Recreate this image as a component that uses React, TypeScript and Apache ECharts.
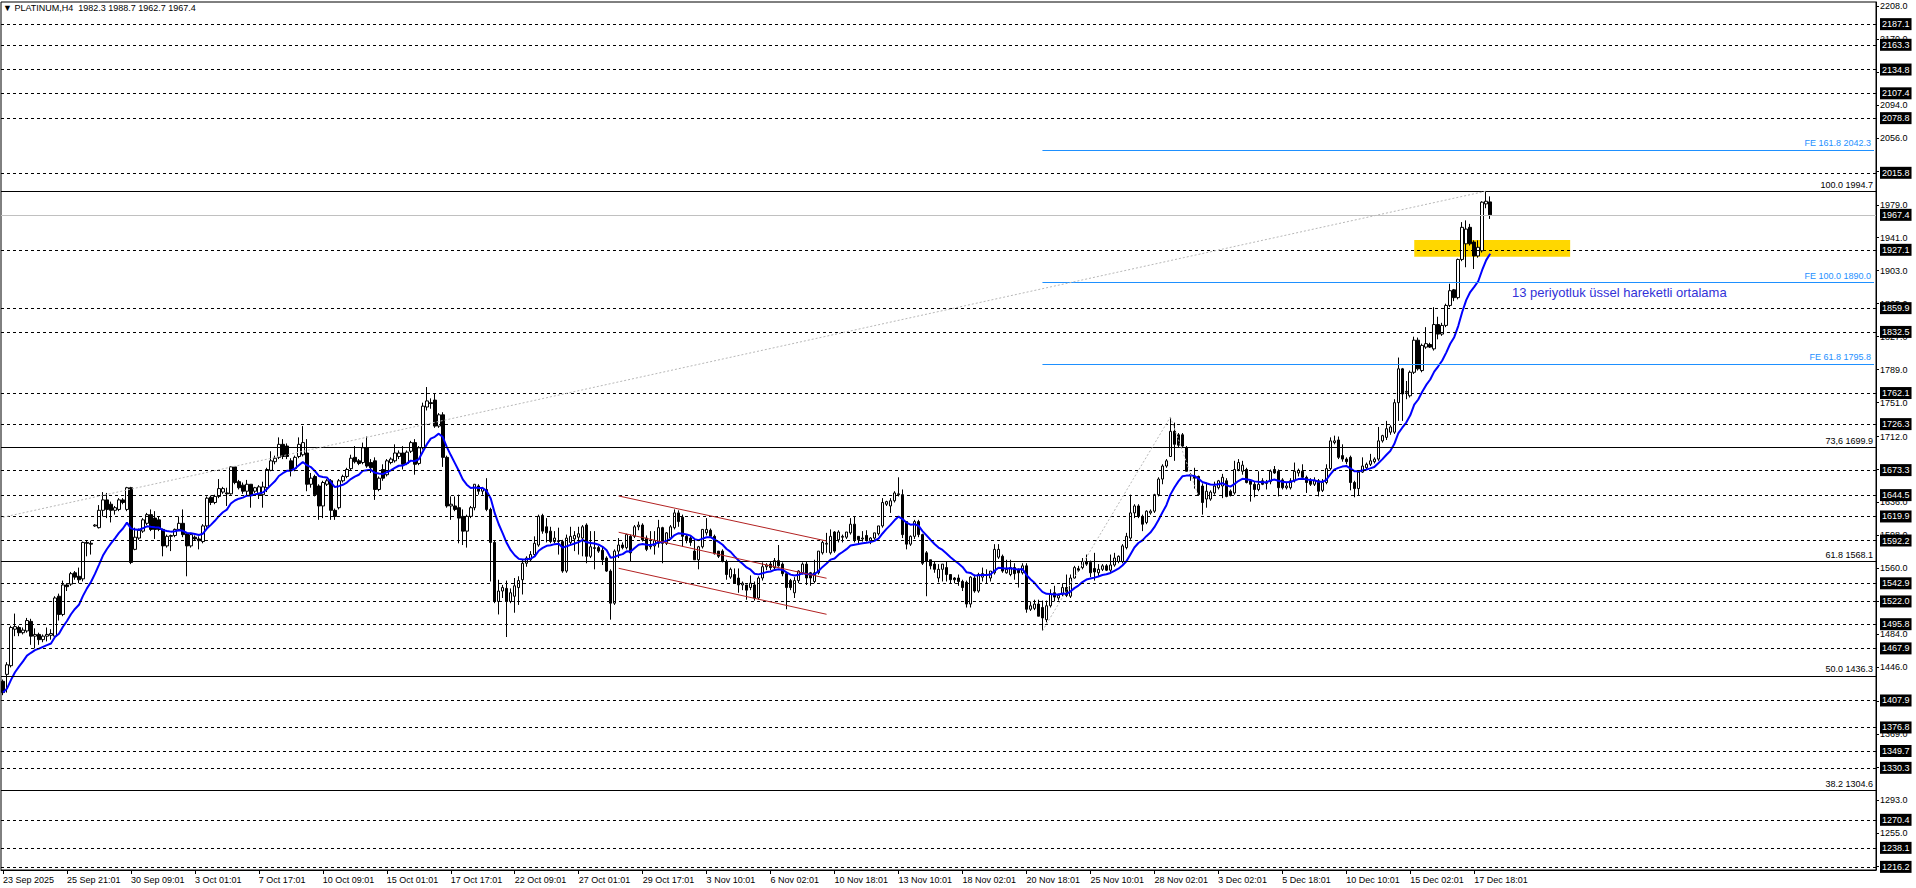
import React, { useEffect, useRef } from "react";
import * as echarts from "echarts";

const FONT = "'Liberation Sans', 'DejaVu Sans', Arial, sans-serif";

const headerText = "\u25BC PLATINUM,H4  1982.3 1988.7 1962.7 1967.4";
const emaLabel = "13 periyotluk üssel hareketli ortalama";

// category slots on the time axis (bars + empty space to the right)
const slotCount = 469;
const xLabelStep = 16;
const xLabels = [
  "23 Sep 2025", "25 Sep 21:01", "30 Sep 09:01", "3 Oct 01:01", "7 Oct 17:01", "10 Oct 09:01",
  "15 Oct 01:01", "17 Oct 17:01", "22 Oct 09:01", "27 Oct 01:01", "29 Oct 17:01", "3 Nov 10:01",
  "6 Nov 02:01", "10 Nov 18:01", "13 Nov 10:01", "18 Nov 02:01", "20 Nov 18:01", "25 Nov 10:01",
  "28 Nov 02:01", "3 Dec 02:01", "5 Dec 18:01", "10 Dec 10:01", "15 Dec 02:01", "17 Dec 18:01",
];

const yMin = 1212.6;
const yMax = 2212.6;
const yTicks = [
  2208, 2170, 2132, 2094, 2056, 2018, 1979, 1941, 1903, 1865, 1827, 1789, 1751, 1712,
  1674, 1636, 1598, 1560, 1522, 1484, 1446, 1407, 1369, 1331, 1293, 1255, 1217,
];

// [open, high, low, close]
const candlesSep = [
  [1430, 1432, 1414, 1417], [1438, 1452, 1417, 1449], [1448, 1494, 1446, 1492], [1490, 1508, 1482, 1493],
  [1492, 1494, 1482, 1486], [1486, 1492, 1484, 1489], [1488, 1503, 1486, 1500], [1499, 1502, 1472, 1482],
  [1482, 1491, 1468, 1484], [1484, 1486, 1472, 1478], [1478, 1484, 1475, 1482], [1482, 1492, 1476, 1484],
  [1483, 1490, 1478, 1485], [1482, 1528, 1480, 1526], [1528, 1531, 1500, 1507], [1507, 1546, 1505, 1541],
  [1541, 1543, 1534, 1539], [1542, 1556, 1540, 1554], [1555, 1557, 1547, 1550], [1551, 1561, 1543, 1547],
  [1548, 1591, 1545, 1590], [1590, 1592, 1574, 1589], [1589, 1592, 1576, 1588], [1609, 1611, 1608, 1610],
  [1607, 1633, 1606, 1627], [1627, 1648, 1620, 1639], [1639, 1647, 1618, 1628], [1634, 1637, 1613, 1627],
  [1627, 1632, 1622, 1630], [1628, 1641, 1626, 1639], [1639, 1641, 1634, 1636], [1628, 1654, 1626, 1653],
  [1653, 1654, 1565, 1567], [1582, 1607, 1581, 1596], [1595, 1606, 1593, 1604], [1603, 1618, 1601, 1616],
];

const candlesOct = [
  [1612, 1624, 1610, 1622], [1622, 1628, 1603, 1605], [1618, 1626, 1594, 1605], [1616, 1620, 1603, 1605],
  [1605, 1606, 1574, 1586], [1586, 1599, 1584, 1597], [1597, 1599, 1580, 1598], [1598, 1606, 1596, 1605],
  [1605, 1620, 1603, 1612], [1612, 1628, 1596, 1599], [1600, 1602, 1551, 1586], [1586, 1601, 1584, 1599],
  [1596, 1598, 1592, 1594], [1594, 1597, 1582, 1592], [1591, 1611, 1589, 1609], [1609, 1643, 1607, 1641],
  [1642, 1644, 1633, 1636], [1636, 1645, 1634, 1643], [1643, 1663, 1641, 1652], [1648, 1654, 1646, 1652],
  [1647, 1653, 1632, 1646], [1646, 1678, 1645, 1677], [1677, 1678, 1657, 1659], [1660, 1662, 1651, 1653],
  [1656, 1659, 1646, 1649], [1649, 1662, 1643, 1657], [1657, 1657, 1630, 1645], [1649, 1654, 1647, 1653],
  [1645, 1656, 1640, 1654], [1645, 1660, 1630, 1654], [1653, 1676, 1648, 1674], [1673, 1695, 1672, 1684],
  [1683, 1690, 1680, 1687], [1688, 1711, 1686, 1703], [1703, 1709, 1686, 1689], [1701, 1704, 1686, 1689],
  [1684, 1687, 1666, 1674], [1675, 1690, 1672, 1688], [1689, 1711, 1687, 1703], [1691, 1724, 1689, 1705],
  [1693, 1709, 1649, 1657], [1657, 1670, 1653, 1664], [1666, 1668, 1643, 1645], [1655, 1657, 1616, 1632],
  [1632, 1661, 1618, 1659], [1657, 1663, 1655, 1661], [1661, 1663, 1616, 1627], [1627, 1629, 1616, 1620],
  [1630, 1663, 1628, 1661], [1661, 1668, 1659, 1666], [1666, 1676, 1664, 1674], [1675, 1691, 1673, 1687],
  [1688, 1701, 1681, 1683], [1684, 1686, 1679, 1681], [1682, 1705, 1680, 1699], [1699, 1712, 1676, 1678],
  [1682, 1686, 1670, 1676], [1684, 1688, 1639, 1651], [1651, 1666, 1649, 1664], [1674, 1680, 1661, 1664],
  [1668, 1686, 1666, 1684], [1682, 1688, 1680, 1686], [1684, 1703, 1682, 1693], [1689, 1696, 1686, 1693],
  [1693, 1701, 1674, 1680], [1681, 1696, 1679, 1694], [1695, 1707, 1693, 1705], [1705, 1709, 1668, 1680],
  [1681, 1701, 1679, 1699], [1699, 1751, 1697, 1747], [1746, 1769, 1742, 1753], [1751, 1756, 1744, 1750],
  [1754, 1762, 1722, 1724], [1724, 1739, 1722, 1737], [1737, 1740, 1677, 1688], [1688, 1690, 1630, 1632],
  [1632, 1643, 1616, 1634], [1632, 1643, 1626, 1628], [1630, 1645, 1589, 1618], [1620, 1628, 1587, 1603],
  [1603, 1622, 1584, 1620], [1620, 1632, 1618, 1630], [1630, 1657, 1627, 1657], [1655, 1657, 1645, 1649],
  [1649, 1654, 1645, 1652], [1651, 1664, 1626, 1628], [1628, 1630, 1545, 1590], [1590, 1592, 1520, 1522],
  [1522, 1547, 1507, 1534], [1534, 1541, 1526, 1538], [1537, 1546, 1481, 1522], [1522, 1537, 1520, 1532],
  [1528, 1549, 1509, 1540], [1538, 1551, 1518, 1546], [1547, 1570, 1530, 1566], [1566, 1574, 1562, 1572],
  [1570, 1580, 1568, 1576], [1576, 1597, 1574, 1589], [1587, 1622, 1585, 1620], [1621, 1623, 1600, 1603],
  [1608, 1618, 1590, 1601], [1603, 1608, 1589, 1591], [1591, 1603, 1589, 1595], [1592, 1607, 1576, 1591],
  [1591, 1593, 1555, 1557], [1557, 1599, 1555, 1595], [1590, 1608, 1588, 1597], [1594, 1603, 1580, 1598],
  [1596, 1608, 1576, 1600], [1595, 1610, 1574, 1608], [1610, 1612, 1566, 1574], [1574, 1603, 1572, 1585],
  [1583, 1603, 1559, 1584], [1584, 1586, 1578, 1580], [1581, 1585, 1564, 1570], [1572, 1574, 1556, 1557],
  [1557, 1559, 1501, 1520], [1520, 1582, 1518, 1580], [1580, 1595, 1572, 1587], [1587, 1590, 1582, 1584],
  [1584, 1600, 1582, 1599], [1597, 1599, 1568, 1578], [1597, 1610, 1595, 1608], [1608, 1614, 1604, 1610],
  [1610, 1612, 1591, 1593], [1595, 1598, 1580, 1582], [1585, 1603, 1582, 1586], [1586, 1603, 1576, 1592],
  [1589, 1616, 1584, 1607], [1607, 1608, 1566, 1589], [1589, 1602, 1587, 1601], [1595, 1610, 1593, 1608],
  [1607, 1628, 1605, 1624], [1624, 1627, 1608, 1614], [1619, 1622, 1585, 1597], [1597, 1599, 1589, 1593],
  [1595, 1598, 1586, 1590], [1580, 1595, 1570, 1570],
];

const candlesNov = [
  [1570, 1586, 1559, 1585], [1585, 1605, 1583, 1605], [1601, 1618, 1598, 1605], [1604, 1606, 1597, 1597],
  [1597, 1599, 1576, 1577], [1580, 1580, 1572, 1574], [1580, 1582, 1567, 1568], [1568, 1570, 1547, 1553],
  [1550, 1561, 1548, 1559], [1553, 1560, 1543, 1543], [1549, 1560, 1532, 1541], [1541, 1545, 1535, 1543],
  [1541, 1541, 1524, 1535], [1538, 1552, 1535, 1543], [1541, 1545, 1523, 1526], [1526, 1551, 1524, 1549],
  [1549, 1567, 1546, 1562], [1562, 1566, 1558, 1564], [1565, 1568, 1558, 1561], [1561, 1572, 1558, 1569],
  [1569, 1587, 1562, 1563], [1565, 1567, 1551, 1554], [1554, 1556, 1513, 1538], [1546, 1548, 1535, 1538],
  [1532, 1550, 1526, 1546], [1546, 1558, 1543, 1557], [1555, 1567, 1553, 1565], [1565, 1568, 1541, 1549],
  [1555, 1556, 1540, 1549], [1545, 1570, 1543, 1555], [1555, 1580, 1553, 1580], [1578, 1592, 1576, 1590],
  [1588, 1601, 1578, 1589], [1578, 1605, 1576, 1597], [1602, 1603, 1578, 1580], [1593, 1604, 1590, 1602],
  [1596, 1599, 1590, 1597], [1596, 1602, 1594, 1602], [1601, 1618, 1599, 1611], [1611, 1620, 1590, 1593],
  [1597, 1597, 1588, 1593], [1594, 1603, 1591, 1595], [1598, 1604, 1591, 1593], [1592, 1596, 1588, 1595],
  [1595, 1601, 1593, 1601], [1600, 1609, 1598, 1609], [1609, 1641, 1607, 1636], [1634, 1638, 1632, 1637],
  [1632, 1641, 1624, 1638], [1638, 1649, 1636, 1647], [1645, 1665, 1643, 1646], [1645, 1651, 1595, 1599],
  [1614, 1614, 1582, 1588], [1588, 1598, 1586, 1597], [1597, 1616, 1594, 1614], [1614, 1616, 1596, 1599],
  [1599, 1600, 1564, 1566], [1578, 1580, 1528, 1568], [1570, 1570, 1559, 1563], [1565, 1568, 1555, 1559],
  [1549, 1565, 1544, 1559], [1559, 1565, 1545, 1565], [1561, 1568, 1545, 1553], [1553, 1553, 1543, 1547],
  [1549, 1550, 1543, 1547], [1549, 1553, 1540, 1545], [1545, 1547, 1534, 1538], [1544, 1546, 1515, 1519],
  [1519, 1551, 1515, 1550], [1549, 1553, 1532, 1534], [1534, 1555, 1532, 1553], [1550, 1561, 1545, 1554],
  [1552, 1559, 1543, 1553], [1549, 1557, 1545, 1557], [1555, 1588, 1553, 1582], [1573, 1588, 1571, 1582],
  [1574, 1576, 1555, 1557], [1555, 1570, 1554, 1559], [1553, 1570, 1551, 1561], [1561, 1566, 1547, 1554],
  [1559, 1560, 1538, 1555], [1555, 1566, 1553, 1563], [1563, 1566, 1509, 1513], [1513, 1522, 1511, 1517],
  [1514, 1524, 1512, 1519], [1519, 1524, 1505, 1505], [1515, 1523, 1488, 1503], [1501, 1523, 1498, 1517],
  [1517, 1536, 1515, 1530], [1532, 1540, 1522, 1527], [1526, 1531, 1523, 1529], [1530, 1543, 1528, 1538],
  [1538, 1553, 1527, 1529], [1528, 1553, 1526, 1549], [1549, 1563, 1548, 1561], [1560, 1563, 1556, 1558],
  [1561, 1572, 1559, 1568], [1568, 1576, 1563, 1565], [1567, 1569, 1550, 1555], [1560, 1578, 1546, 1556],
  [1555, 1565, 1551, 1559], [1559, 1565, 1557, 1563], [1563, 1565, 1557, 1558], [1558, 1576, 1556, 1564],
  [1564, 1578, 1562, 1572], [1568, 1575, 1566, 1574], [1568, 1588, 1566, 1586], [1584, 1601, 1582, 1597],
  [1595, 1645, 1593, 1624], [1624, 1634, 1618, 1632], [1632, 1634, 1618, 1620], [1620, 1622, 1603, 1611],
  [1613, 1627, 1611, 1626], [1624, 1628, 1622, 1626], [1626, 1646, 1624, 1645], [1645, 1665, 1643, 1663],
  [1663, 1680, 1657, 1678], [1678, 1686, 1676, 1684],
];

const candlesDec = [
  [1689, 1734.5, 1689, 1718], [1718, 1728, 1684, 1703], [1714, 1716, 1700, 1702], [1714, 1716, 1700, 1701],
  [1699, 1701, 1672, 1672], [1667, 1670, 1661, 1668], [1666, 1676, 1652, 1664], [1666, 1667, 1643.6, 1645],
  [1655, 1658, 1622, 1636], [1640, 1659, 1630, 1649], [1640, 1650, 1638, 1648], [1647, 1660, 1645, 1655],
  [1653, 1662, 1651, 1661], [1655, 1669, 1641, 1665], [1661, 1664, 1642, 1643], [1649, 1651, 1643, 1644],
  [1647, 1684, 1645, 1674], [1674, 1686, 1672, 1682], [1672, 1684, 1668, 1679], [1674, 1676, 1658, 1659],
  [1661, 1663, 1637, 1657], [1657, 1660, 1642, 1651], [1651, 1672, 1649, 1657], [1661, 1664, 1656, 1657],
  [1658, 1662, 1651, 1659], [1660, 1674, 1657, 1672], [1674, 1678, 1669, 1670], [1672, 1674, 1643, 1653],
  [1662, 1664, 1651, 1653], [1653, 1659, 1651, 1655], [1653, 1664, 1651, 1661], [1661, 1682, 1659, 1672],
  [1670, 1675, 1666, 1673], [1672, 1680, 1664, 1665], [1665, 1667, 1647, 1659], [1662, 1664, 1655, 1657],
  [1657, 1665, 1655, 1661], [1661, 1663, 1643, 1649], [1650, 1663, 1648, 1659], [1659, 1680, 1657, 1675],
  [1675, 1711, 1673, 1707], [1705, 1713, 1703, 1707], [1708, 1712, 1686, 1688], [1690, 1703, 1683, 1686],
  [1686, 1688, 1680, 1683], [1688, 1690, 1650, 1659], [1659, 1661, 1642, 1652], [1652, 1672, 1644, 1671],
  [1671, 1688, 1670, 1678], [1676, 1682, 1674, 1680], [1680, 1692, 1678, 1684], [1683, 1688, 1681, 1686],
  [1686, 1723, 1684, 1707], [1707, 1714, 1705, 1713], [1711, 1730, 1708, 1721], [1717, 1725, 1714, 1723],
  [1717, 1755, 1715, 1751], [1751, 1803, 1730, 1790], [1790, 1791, 1730, 1761], [1763, 1776, 1755, 1764],
  [1759, 1788, 1757, 1786], [1786, 1827, 1784, 1823], [1823, 1826, 1788, 1790], [1788, 1819, 1786, 1817],
  [1815, 1838, 1813, 1819], [1818, 1820, 1814, 1815], [1813, 1861, 1811, 1841], [1841, 1850, 1824, 1830],
  [1830, 1843, 1828, 1840], [1840, 1865, 1838, 1863], [1863, 1888, 1861, 1880], [1881, 1882, 1868, 1872],
  [1872, 1917, 1870, 1916], [1916, 1959, 1914, 1953], [1934, 1961, 1907, 1951], [1953, 1957, 1932, 1934],
  [1936, 1938, 1905, 1920], [1920, 1938, 1918, 1930], [1926, 1983, 1924, 1982], [1980, 1994.7, 1975, 1983],
  [1982.3, 1988.7, 1962.7, 1967.4],
];

// horizontal price levels with labels on the price scale
const levelLines = [
  2187.1, 2163.3, 2134.8, 2107.4, 2078.8, 2015.8, 1927.1, 1859.9, 1832.5, 1762.1, 1726.3, 1673.3,
  1644.5, 1619.9, 1592.2, 1542.9, 1522.0, 1495.8, 1467.9, 1407.9, 1376.8, 1349.7, 1330.3, 1270.4,
  1238.1, 1216.2,
];
const bidPrice = 1967.4;

const fiboLevels: [string, number][] = [
  ["100.0", 1994.7], ["73,6", 1699.9], ["61.8", 1568.1], ["50.0", 1436.3], ["38.2", 1304.6],
];
const feLevels: [string, number][] = [
  ["FE 161.8", 2042.3], ["FE 100.0", 1890.0], ["FE 61.8", 1795.8],
];
const feStartIndex = 260;

const fiboTrend = [[0, 1619], [371, 1994.7]];
const feLegs = [[260, 1488.1], [292, 1734.5], [299, 1643.6]];
const channelLines = [
  [[154, 1643.5], [206, 1591.6]],
  [[154, 1601.7], [206, 1548.7]],
  [[154, 1560.2], [206, 1507.2]],
];
const zoneBox = [[353, 1938.4], [392, 1919.2]];

const emaPeriod = 13;
const emaSeed = 1417;

export default function App() {
  const ref = useRef<HTMLDivElement>(null);

  useEffect(() => {
    if (!ref.current) return;
    const chart = echarts.init(ref.current, null, { renderer: "svg" });

    const candles = [...candlesSep, ...candlesOct, ...candlesNov, ...candlesDec];
    const categories = Array.from({ length: slotCount }, (_, i) => String(i));
    const candleData = candles.map(([o, h, l, c]) => [o, c, l, h]);

    const alpha = 2 / (emaPeriod + 1);
    let prev = emaSeed;
    const emaData = candles.map((row) => {
      prev = prev + alpha * (row[3] - prev);
      return +prev.toFixed(2);
    });

    const lastSlot = slotCount - 1;
    const boxLabel = {
      show: true,
      position: "end",
      distance: 4,
      backgroundColor: "#000",
      color: "#fff",
      fontSize: 9,
      fontFamily: FONT,
      padding: [2, 2, 1, 2],
    };

    const markLines: any[] = [];
    levelLines.forEach((v) => {
      markLines.push({
        yAxis: v,
        lineStyle: { color: "#000", type: [3, 3], width: 1 },
        label: { ...boxLabel, formatter: v.toFixed(1) },
      });
    });
    markLines.push({
      yAxis: bidPrice,
      lineStyle: { color: "#c0c0c0", type: "solid", width: 1 },
      label: { ...boxLabel, formatter: bidPrice.toFixed(1) },
    });
    fiboLevels.forEach(([lvl, v]) => {
      markLines.push({
        yAxis: v,
        lineStyle: { color: "#000", type: "solid", width: 1 },
        label: {
          show: true,
          position: "insideEndTop",
          distance: [3, 2],
          formatter: `${lvl} ${v.toFixed(1)}`,
          color: "#000",
          fontSize: 9,
          fontFamily: FONT,
        },
      });
    });
    feLevels.forEach(([lvl, v]) => {
      markLines.push([
        {
          coord: [feStartIndex, v],
          lineStyle: { color: "#1e90ff", type: "solid", width: 1 },
          label: {
            show: true,
            position: "insideEndTop",
            distance: [3, 2],
            formatter: `${lvl} ${v.toFixed(1)}`,
            color: "#1e90ff",
            fontSize: 9,
            fontFamily: FONT,
          },
        },
        { coord: [lastSlot, v] },
      ]);
    });
    const segment = (a: number[], b: number[], color: string, type: any) => [
      { coord: a, lineStyle: { color, type, width: 1 }, label: { show: false } },
      { coord: b },
    ];
    markLines.push(segment(fiboTrend[0], fiboTrend[1], "#b8b8b8", [2, 2]));
    markLines.push(segment(feLegs[0], feLegs[1], "#b8b8b8", [2, 2]));
    markLines.push(segment(feLegs[1], feLegs[2], "#b8b8b8", [2, 2]));
    channelLines.forEach(([a, b]) => markLines.push(segment(a, b, "#b22222", "solid")));

    const option: any = {
      animation: false,
      backgroundColor: "#fff",
      textStyle: { fontFamily: FONT },
      grid: {
        left: 1,
        top: 2,
        width: 1875,
        height: 868,
        show: true,
        borderColor: "#000",
        borderWidth: 1,
        backgroundColor: "#fff",
      },
      xAxis: {
        type: "category",
        data: categories,
        boundaryGap: true,
        axisLine: { show: true, lineStyle: { color: "#000", width: 1 } },
        axisTick: {
          show: true,
          alignWithLabel: true,
          length: 4,
          interval: (i: number) => i % xLabelStep === 0 && i / xLabelStep < xLabels.length,
          lineStyle: { color: "#000" },
        },
        axisLabel: {
          interval: (i: number) => i % xLabelStep === 0 && i / xLabelStep < xLabels.length,
          formatter: (v: string) => xLabels[Number(v) / xLabelStep] ?? "",
          align: "left",
          margin: 5,
          fontSize: 9,
          color: "#000",
          fontFamily: FONT,
        },
        splitLine: { show: false },
      },
      yAxis: {
        type: "value",
        position: "right",
        min: yMin,
        max: yMax,
        splitLine: { show: false },
        axisLine: { show: true, lineStyle: { color: "#000", width: 1 } },
        axisTick: { show: true, customValues: yTicks, length: 3, lineStyle: { color: "#000" } },
        axisLabel: {
          customValues: yTicks,
          formatter: (v: number) => v.toFixed(1),
          fontSize: 9,
          color: "#000",
          margin: 4,
          fontFamily: FONT,
        },
      },
      graphic: [
        {
          type: "text",
          left: 3,
          top: 3,
          z: 100,
          style: { text: headerText, fill: "#000", font: `9px ${FONT}` },
        },
        {
          type: "text",
          x: 1512,
          y: 292,
          z: 100,
          style: {
            text: emaLabel,
            fill: "#3232d8",
            font: `13px ${FONT}`,
            verticalAlign: "middle",
          },
        },
      ],
      series: [
        {
          name: "zone",
          type: "line",
          data: [],
          z: 1,
          silent: true,
          markArea: {
            silent: true,
            itemStyle: { color: "#ffd700", opacity: 1 },
            data: [[{ coord: zoneBox[0] }, { coord: zoneBox[1] }]],
          },
        },
        {
          name: "PLATINUM",
          type: "candlestick",
          data: candleData,
          barWidth: 3,
          z: 3,
          itemStyle: {
            color: "#fff",
            color0: "#000",
            borderColor: "#000",
            borderColor0: "#000",
            borderWidth: 1,
          },
          markLine: {
            silent: true,
            symbol: ["none", "none"],
            animation: false,
            data: markLines,
          },
        },
        {
          name: "EMA13",
          type: "line",
          data: emaData,
          z: 4,
          showSymbol: false,
          symbol: "none",
          lineStyle: { color: "#0000ff", width: 2 },
        },
      ],
    };

    chart.setOption(option);
    return () => chart.dispose();
  }, []);

  return (
    <div
      ref={ref}
      style={{ position: "fixed", left: 0, top: 0, width: 1916, height: 888, background: "#fff" }}
    />
  );
}
